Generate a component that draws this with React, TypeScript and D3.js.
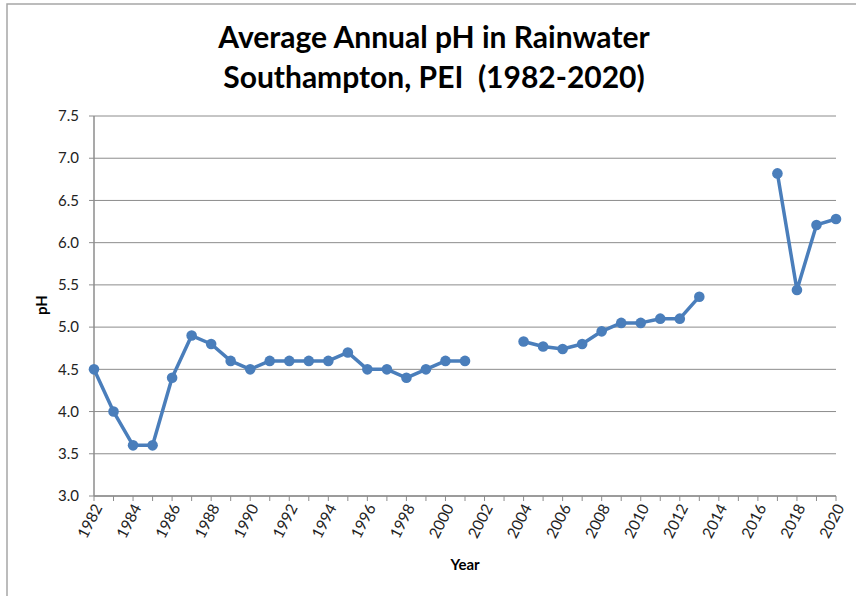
import React from 'react';
import * as d3 from 'd3';

// Average annual pH, Southampton PEI. null = no measurement that year.
const years = d3.range(1982, 2021);
const phValues: (number | null)[] = [
  4.5, 4.0, 3.6, 3.6, 4.4, 4.9, 4.8, 4.6, 4.5, 4.6,
  4.6, 4.6, 4.6, 4.7, 4.5, 4.5, 4.4, 4.5, 4.6, 4.6,
  null, null, 4.83, 4.77, 4.74, 4.8, 4.95, 5.05, 5.05, 5.1,
  5.1, 5.36, null, null, null, 6.82, 5.44, 6.21, 6.28,
];
const yTicks = [3.0, 3.5, 4.0, 4.5, 5.0, 5.5, 6.0, 6.5, 7.0, 7.5];
const xLabelYears = years.filter(y => (y - 1982) % 2 === 0);

const W = 856;
const H = 596;
const FONT = 'Lato, "Open Sans", sans-serif';
const BLUE = '#4a7ebb';

export default function App() {
  const x = d3.scaleLinear().domain([1982, 2020]).range([94, 836]);
  const y = d3.scaleLinear().domain([3, 7.5]).range([496, 116]);

  const pts = years.map((yr, i) => ({yr, v: phValues[i]}));
  const line = d3.line<{yr: number; v: number | null}>()
    .defined(d => d.v !== null)
    .x(d => x(d.yr))
    .y(d => y(d.v as number));

  return (
    <svg width={W} height={H} style={{position: 'absolute', left: 0, top: 0}}>
      <rect x={7} y={4} width={W} height={H} fill="#fff" stroke="#a6a6a6" strokeWidth={1.5} />

      <g fontFamily={FONT} fontWeight="bold" fontSize={30} textAnchor="middle" fill="#000">
        <text x={434} y={48}>Average Annual pH in Rainwater</text>
        <text x={434} y={88} style={{whiteSpace: 'pre'}}>Southampton, PEI  (1982-2020)</text>
      </g>

      {/* horizontal gridlines */}
      {yTicks.map(t => (
        <line key={t} x1={x(1982)} x2={836} y1={y(t)} y2={y(t)} stroke="#8c8c8c" strokeWidth={1} />
      ))}

      {/* y axis */}
      <line x1={x(1982)} x2={x(1982)} y1={y(7.5)} y2={y(3)} stroke="#8c8c8c" strokeWidth={1.5} />
      {yTicks.map(t => (
        <g key={'yt' + t}>
          <line x1={x(1982) - 5} x2={x(1982)} y1={y(t)} y2={y(t)} stroke="#8c8c8c" />
          <text x={79} y={y(t)} dy="0.35em" textAnchor="end" fontFamily={FONT} fontSize={15} fill="#222">
            {t.toFixed(1)}
          </text>
        </g>
      ))}

      {/* x axis */}
      <line x1={x(1982)} x2={836} y1={y(3)} y2={y(3)} stroke="#8c8c8c" strokeWidth={1.5} />
      {years.map(yr => (
        <line key={'xt' + yr} x1={x(yr)} x2={x(yr)} y1={y(3)} y2={y(3) + 5} stroke="#8c8c8c" />
      ))}
      {xLabelYears.map(yr => (
        <text key={'xl' + yr}
          transform={`translate(${x(yr) + 4},${y(3) + 9}) rotate(-63)`}
          textAnchor="end" dy="0.35em" fontFamily={FONT} fontSize={15.5} fill="#222">
          {yr}
        </text>
      ))}

      <text x={465} y={570} textAnchor="middle" fontFamily={FONT} fontWeight="bold" fontSize={15}>Year</text>
      <text transform="translate(47,305) rotate(-90)" textAnchor="middle" fontFamily={FONT} fontWeight="bold" fontSize={15}>pH</text>

      <path d={line(pts) ?? ''} fill="none" stroke={BLUE} strokeWidth={3.5} strokeLinejoin="round" />
      {pts.filter(d => d.v !== null).map(d => (
        <circle key={'p' + d.yr} cx={x(d.yr)} cy={y(d.v as number)} r={5.3} fill={BLUE} />
      ))}
    </svg>
  );
}
